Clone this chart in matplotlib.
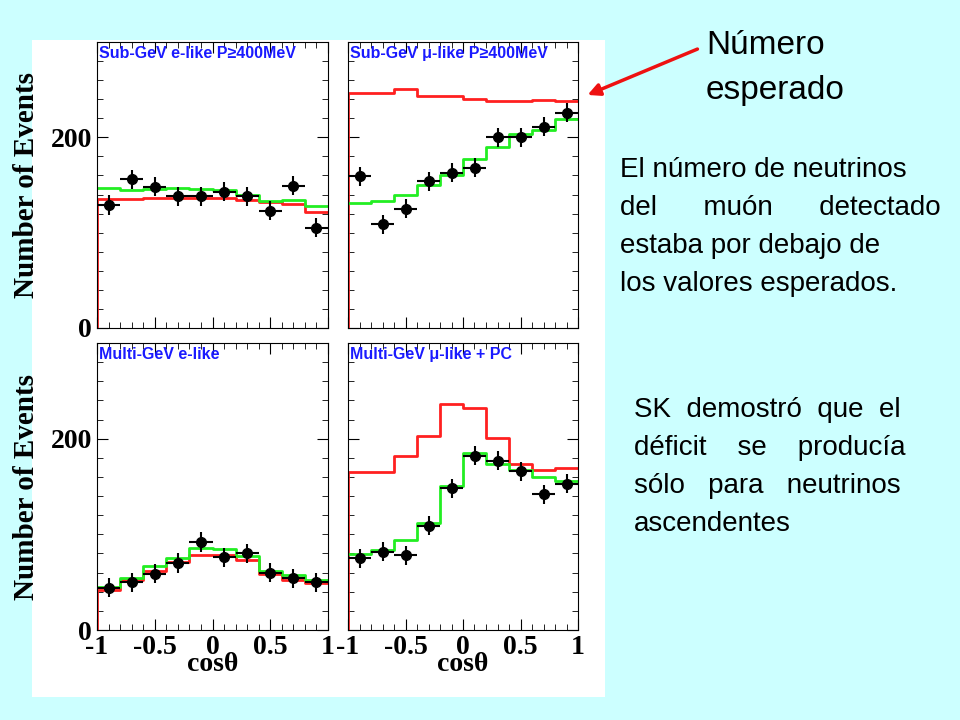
import matplotlib.pyplot as plt
import numpy as np

edges = np.linspace(-1, 1, 11)
centers = (edges[:-1] + edges[1:]) / 2

# top-left: Sub-GeV e-like
tl_pts = [129, 156, 148, 138, 138, 143, 138, 123, 149, 105]
tl_green = [147, 145, 146, 147, 146, 145, 140, 133, 134, 128]
tl_red = [135, 135, 136, 136, 136, 136, 134, 132, 130, 122]
# top-right: Sub-GeV mu-like
tr_pts = [159, 109, 125, 154, 163, 168, 200, 200, 211, 226]
tr_green = [131, 133, 140, 150, 161, 177, 190, 203, 208, 219]
tr_red = [247, 247, 251, 243, 243, 240, 238, 238, 239, 238]
# bottom-left: Multi-GeV e-like
bl_pts = [44, 50, 59, 70, 92, 76, 80, 60, 54, 50]
bl_green = [45, 54, 67, 75, 86, 85, 77, 62, 57, 52]
bl_red = [42, 52, 62, 71, 78, 78, 73, 59, 52, 49]
# bottom-right: Multi-GeV mu-like + PC
br_pts = [75, 82, 78, 109, 148, 182, 177, 166, 142, 153]
br_green = [79, 84, 94, 112, 151, 185, 174, 167, 160, 156]
br_red = [165, 165, 182, 203, 236, 232, 201, 174, 167, 169]

titles = ["Sub-GeV e-like P\u2265400MeV", "Sub-GeV \u03bc-like P\u2265400MeV",
          "Multi-GeV e-like", "Multi-GeV \u03bc-like + PC"]

W, H = 960, 720
fig = plt.figure(figsize=(9.6, 7.2), dpi=100)
fig.patch.set_facecolor('#ccffff')

# white panel behind plots
bg = fig.add_axes([32 / W, 1 - 697 / H, (605 - 32) / W, (697 - 40) / H])
bg.set_facecolor('white')
bg.set_xticks([]); bg.set_yticks([])
for s in bg.spines.values():
    s.set_visible(False)

boxes = [(97, 42, 328, 328), (348, 42, 578, 328), (97, 343, 328, 630), (348, 343, 578, 630)]
data = [(tl_pts, tl_green, tl_red), (tr_pts, tr_green, tr_red),
        (bl_pts, bl_green, bl_red), (br_pts, br_green, br_red)]

serif = {'family': 'Liberation Serif', 'weight': 'bold'}
for i, ((x0, y0, x1, y1), (pts, gr, rd)) in enumerate(zip(boxes, data)):
    ax = fig.add_axes([x0 / W, 1 - y1 / H, (x1 - x0) / W, (y1 - y0) / H])
    rd_s = np.r_[0, rd, rd[-1]]
    gr_s = np.r_[gr, gr[-1]]
    ax.step(np.r_[edges[0], edges], rd_s, where='post', color='#ff2020', lw=2)
    ax.step(edges, gr_s, where='post', color='#22ee22', lw=2)
    ax.errorbar(centers, pts, xerr=0.1, yerr=10, fmt='o', color='black', ms=7, lw=1.5, capsize=0)
    ax.set_xlim(-1, 1)
    ax.set_ylim(0, 300)
    ax.set_yticks([0, 200])
    ax.set_yticks(np.arange(0, 300, 20), minor=True)
    ax.set_xticks([-1, -0.5, 0, 0.5, 1])
    ax.set_xticks(np.arange(-1, 1.01, 0.1), minor=True)
    ax.tick_params(which='both', direction='in', top=True, right=True)
    ax.tick_params(which='major', length=8)
    ax.tick_params(which='minor', length=4)
    if i % 2 == 0:
        ax.set_yticklabels(['0', '200'], fontdict={**serif, 'size': 20})
        ax.set_ylabel('Number of Events', fontdict={**serif, 'size': 21}, labelpad=8)
    else:
        ax.set_yticklabels([])
    if i >= 2:
        ax.set_xticklabels(['-1', '-0.5', '0', '0.5', '1'], fontdict={**serif, 'size': 20})
        ax.set_xlabel('cos\u03b8', fontdict={**serif, 'size': 20}, labelpad=-6)
    else:
        ax.set_xticklabels([])
    ax.text(0.01, 0.985, titles[i], transform=ax.transAxes, va='top', ha='left',
            color='#1a1aff', fontsize=11.5, fontweight='bold', family='Liberation Sans')

fig.text(706 / W, 1 - 45 / H, 'Número', fontsize=24, family='Liberation Sans', va='center')
fig.text(706 / W, 1 - 90 / H, 'esperado', fontsize=24, family='Liberation Sans', va='center')
fig.add_artist(plt.matplotlib.patches.FancyArrowPatch(
    (700 / W, 1 - 48 / H), (585 / W, 1 - 96 / H), transform=fig.transFigure,
    arrowstyle='-|>', mutation_scale=18, color='#ee1111', lw=2.5))

lines1 = ['El número de neutrinos', 'del      muón      detectado', 'estaba por debajo de', 'los valores esperados.']
for k, s in enumerate(lines1):
    fig.text(620 / W, 1 - (170 + k * 38) / H, s, fontsize=20, family='Liberation Sans', va='center')
lines2 = ['SK  demostró  que  el', 'déficit    se    producía', 'sólo   para   neutrinos', 'ascendentes']
for k, s in enumerate(lines2):
    fig.text(634 / W, 1 - (410 + k * 38) / H, s, fontsize=20, family='Liberation Sans', va='center')

fig.savefig('out.png', dpi=100, facecolor=fig.get_facecolor())
